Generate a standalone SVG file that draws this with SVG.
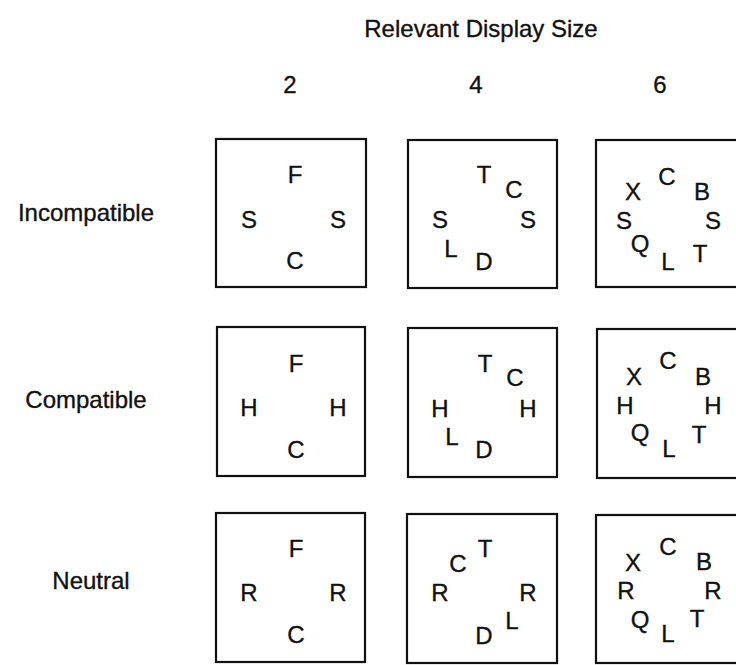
<svg xmlns="http://www.w3.org/2000/svg" width="736" height="665" viewBox="0 0 736 665">
  <style>
    .lbl { font-family: "Liberation Sans", Arial, sans-serif; font-size: 24px; fill: #111; stroke: #111; stroke-width: 0.35; text-anchor: middle; }
    .box { fill: none; stroke: #111; stroke-width: 2.2; }
  </style>
  <rect x="0" y="0" width="736" height="665" fill="#fff"/>

  <!-- column header and set sizes -->
  <g id="header">
    <text class="lbl" x="481" y="37">Relevant Display Size</text>
    <text class="lbl" x="290" y="93">2</text>
    <text class="lbl" x="476" y="93">4</text>
    <text class="lbl" x="660" y="93">6</text>
  </g>

  <!-- row labels -->
  <g id="rows">
    <text class="lbl" x="86" y="221">Incompatible</text>
    <text class="lbl" x="86" y="408">Compatible</text>
    <text class="lbl" x="91" y="589">Neutral</text>
  </g>

  <!-- Incompatible row -->
  <g id="inc2">
    <rect class="box" x="216" y="139" width="150" height="148"/>
    <text class="lbl" x="295" y="183">F</text>
    <text class="lbl" x="249" y="228">S</text>
    <text class="lbl" x="338" y="228">S</text>
    <text class="lbl" x="295" y="269">C</text>
  </g>
  <g id="inc4">
    <rect class="box" x="408" y="140" width="149" height="148"/>
    <text class="lbl" x="484" y="183">T</text>
    <text class="lbl" x="514" y="198">C</text>
    <text class="lbl" x="440" y="228">S</text>
    <text class="lbl" x="528" y="228">S</text>
    <text class="lbl" x="451" y="257">L</text>
    <text class="lbl" x="484" y="270">D</text>
  </g>
  <g id="inc6">
    <rect class="box" x="596" y="140" width="150" height="147"/>
    <text class="lbl" x="667" y="185">C</text>
    <text class="lbl" x="633" y="200">X</text>
    <text class="lbl" x="702" y="200">B</text>
    <text class="lbl" x="624" y="229">S</text>
    <text class="lbl" x="713" y="229">S</text>
    <text class="lbl" x="640" y="252">Q</text>
    <text class="lbl" x="700" y="262">T</text>
    <text class="lbl" x="668" y="270">L</text>
  </g>

  <!-- Compatible row -->
  <g id="com2">
    <rect class="box" x="217" y="327" width="148" height="149"/>
    <text class="lbl" x="296" y="372">F</text>
    <text class="lbl" x="249" y="416">H</text>
    <text class="lbl" x="338" y="416">H</text>
    <text class="lbl" x="296" y="458">C</text>
  </g>
  <g id="com4">
    <rect class="box" x="408" y="328" width="149" height="149"/>
    <text class="lbl" x="485" y="372">T</text>
    <text class="lbl" x="515" y="386">C</text>
    <text class="lbl" x="440" y="417">H</text>
    <text class="lbl" x="528" y="417">H</text>
    <text class="lbl" x="452" y="445">L</text>
    <text class="lbl" x="484" y="458">D</text>
  </g>
  <g id="com6">
    <rect class="box" x="597" y="329" width="150" height="149"/>
    <text class="lbl" x="668" y="369">C</text>
    <text class="lbl" x="634" y="385">X</text>
    <text class="lbl" x="703" y="385">B</text>
    <text class="lbl" x="625" y="414">H</text>
    <text class="lbl" x="713" y="414">H</text>
    <text class="lbl" x="640" y="441">Q</text>
    <text class="lbl" x="699" y="443">T</text>
    <text class="lbl" x="669" y="457">L</text>
  </g>

  <!-- Neutral row -->
  <g id="neu2">
    <rect class="box" x="216" y="513" width="149" height="149"/>
    <text class="lbl" x="296" y="557">F</text>
    <text class="lbl" x="249" y="601">R</text>
    <text class="lbl" x="338" y="601">R</text>
    <text class="lbl" x="296" y="643">C</text>
  </g>
  <g id="neu4">
    <rect class="box" x="407" y="514" width="150" height="149"/>
    <text class="lbl" x="485" y="557">T</text>
    <text class="lbl" x="458" y="572">C</text>
    <text class="lbl" x="440" y="601">R</text>
    <text class="lbl" x="528" y="601">R</text>
    <text class="lbl" x="512" y="629">L</text>
    <text class="lbl" x="484" y="644">D</text>
  </g>
  <g id="neu6">
    <rect class="box" x="596" y="515" width="150" height="148"/>
    <text class="lbl" x="668" y="555">C</text>
    <text class="lbl" x="633" y="571">X</text>
    <text class="lbl" x="704" y="570">B</text>
    <text class="lbl" x="626" y="599">R</text>
    <text class="lbl" x="713" y="599">R</text>
    <text class="lbl" x="640" y="628">Q</text>
    <text class="lbl" x="697" y="627">T</text>
    <text class="lbl" x="668" y="642">L</text>
  </g>
</svg>
